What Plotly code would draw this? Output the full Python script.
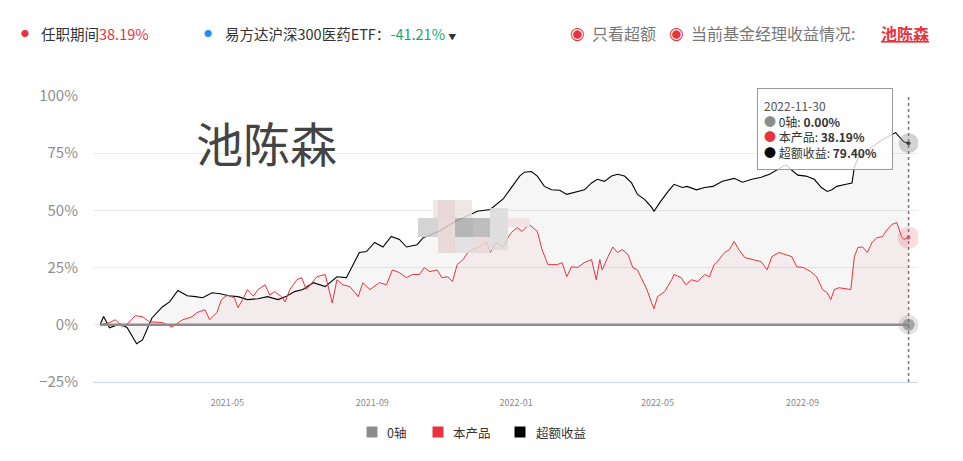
import plotly.graph_objects as go

# ---------------- data ----------------
manager_name = "池陈森"
tenure_return = 38.19
etf_name = "易方达沪深300医药ETF"
etf_return = -41.21
hover_date = "2022-11-30"

series_names = ["0轴", "本产品", "超额收益"]
series_colors = ["#8c8c8c", "#e8333f", "#000000"]

zero_dates = ["2021-01-13", "2022-11-30"]
zero_values = [0, 0]

excess_dates = ["2021-01-13","2021-01-16","2021-01-21","2021-01-30","2021-02-05","2021-02-13","2021-02-18","2021-02-26","2021-03-07","2021-03-13",
                "2021-03-20","2021-03-28","2021-04-04","2021-04-10","2021-04-18","2021-04-25","2021-05-02","2021-05-10","2021-05-18","2021-05-27",
                "2021-06-04","2021-06-13","2021-06-20","2021-06-27","2021-07-04","2021-07-13","2021-07-23","2021-08-02","2021-08-10","2021-08-15",
                "2021-08-21","2021-08-27","2021-09-03","2021-09-10","2021-09-17","2021-09-24","2021-09-30","2021-10-09","2021-10-14","2021-10-28",
                "2021-11-10","2021-11-29","2021-12-10","2021-12-21","2021-12-29","2022-01-04","2022-01-08","2022-01-14","2022-01-19","2022-01-25",
                "2022-01-31","2022-02-07","2022-02-13","2022-02-20","2022-02-28","2022-03-06","2022-03-11","2022-03-17","2022-03-23","2022-03-28",
                "2022-04-03","2022-04-09","2022-04-14","2022-04-20","2022-04-26","2022-04-28","2022-05-03","2022-05-10","2022-05-15","2022-05-22",
                "2022-05-26","2022-06-03","2022-06-10","2022-06-17","2022-06-25","2022-07-05","2022-07-12","2022-07-20","2022-07-28","2022-08-04",
                "2022-08-11","2022-08-18","2022-08-22","2022-08-28","2022-09-04","2022-09-11","2022-09-17","2022-09-22","2022-09-26","2022-09-30",
                "2022-10-08","2022-10-13","2022-10-15","2022-10-19","2022-10-28","2022-11-08","2022-11-19","2022-11-24","2022-11-26","2022-11-30"]
excess_values = [0, 3.6, -1.3, 0.4, -1.3, -8.3, -6.6, 3.0, 7.9, 10.0,
                 15.0, 12.7, 12.3, 11.8, 14.0, 13.6, 12.7, 12.3, 11.0, 11.4,
                 12.3, 11.0, 12.5, 14.5, 15.4, 18.4, 16.7, 21.0, 20.6, 25.4,
                 31.6, 32.0, 36.0, 34.0, 38.6, 37.3, 34.0, 35.0, 38.0, 41.0,
                 45.0, 49.6, 50.4, 55.0, 60.5, 65.0, 66.7, 67.0, 65.0, 60.5,
                 59.0, 58.8, 57.0, 58.0, 59.0, 62.0, 63.6, 62.7, 65.0, 65.8,
                 65.0, 62.0, 57.0, 54.8, 51.3, 49.6, 53.5, 58.3, 61.4, 60.0,
                 60.5, 59.0, 60.0, 60.5, 62.7, 64.0, 62.3, 63.6, 64.5, 65.8,
                 68.0, 70.0, 68.0, 65.4, 65.0, 63.6, 60.0, 58.3, 59.0, 60.5,
                 61.4, 62.0, 69.0, 73.7, 77.0, 81.0, 84.0, 81.0, 80.0, 79.40]

product_dates = ["2021-01-13","2021-01-21","2021-01-26","2021-02-01","2021-02-06","2021-02-12","2021-02-18","2021-02-24","2021-03-07","2021-03-11",
                 "2021-03-15","2021-03-24","2021-04-01","2021-04-05","2021-04-12","2021-04-16","2021-04-22","2021-04-26","2021-05-01","2021-05-07",
                 "2021-05-10","2021-05-14","2021-05-18","2021-05-23","2021-05-27","2021-06-02","2021-06-06","2021-06-10","2021-06-16","2021-06-19",
                 "2021-06-23","2021-06-29","2021-07-03","2021-07-07","2021-07-16","2021-07-23","2021-07-29","2021-08-02","2021-08-07","2021-08-13",
                 "2021-08-20","2021-08-24","2021-08-30","2021-09-07","2021-09-13","2021-09-18","2021-09-24","2021-09-30","2021-10-05","2021-10-11",
                 "2021-10-15","2021-10-20","2021-10-26","2021-10-30","2021-11-04","2021-11-08","2021-11-12","2021-11-17","2021-11-21","2021-11-25",
                 "2021-12-01","2021-12-07","2021-12-10","2021-12-15","2021-12-21","2021-12-25","2021-12-28","2022-01-02","2022-01-06","2022-01-12",
                 "2022-01-15","2022-01-19","2022-01-23","2022-01-28","2022-02-05","2022-02-09","2022-02-13","2022-02-17","2022-02-22","2022-02-28",
                 "2022-03-06","2022-03-10","2022-03-13","2022-03-15","2022-03-20","2022-03-24","2022-03-28","2022-04-01","2022-04-06","2022-04-10",
                 "2022-04-14","2022-04-18","2022-04-22","2022-04-26","2022-04-28","2022-05-01","2022-05-07","2022-05-13","2022-05-15","2022-05-21",
                 "2022-05-25","2022-05-30","2022-06-04","2022-06-10","2022-06-14","2022-06-18","2022-06-20","2022-06-27","2022-07-01","2022-07-05",
                 "2022-07-09","2022-07-14","2022-07-20","2022-07-28","2022-08-02","2022-08-06","2022-08-12","2022-08-18","2022-08-23","2022-08-27",
                 "2022-09-02","2022-09-08","2022-09-13","2022-09-18","2022-09-22","2022-09-25","2022-09-28","2022-10-02","2022-10-08","2022-10-12",
                 "2022-10-15","2022-10-18","2022-10-22","2022-10-26","2022-10-30","2022-11-03","2022-11-08","2022-11-12","2022-11-16","2022-11-20",
                 "2022-11-24","2022-11-26","2022-11-30"]
product_values = [0, 1.0, 2.2, -0.9, 0.8, 4.0, 3.5, 1.3, 1.0, 0.0,
                  -1.0, 2.2, 3.5, 5.3, 6.6, 2.2, 5.3, 11.0, 13.0, 11.8,
                  7.5, 11.0, 15.4, 12.5, 15.4, 17.5, 13.0, 14.5, 12.3, 10.0,
                  15.4, 19.7, 20.6, 15.4, 21.0, 22.0, 9.6, 19.7, 17.5, 16.7,
                  12.3, 18.4, 15.4, 18.4, 17.5, 24.0, 22.8, 20.6, 22.0, 22.0,
                  25.0, 23.2, 24.0, 20.6, 21.0, 18.9, 26.3, 28.5, 31.6, 32.9,
                  34.0, 36.4, 31.6, 36.0, 34.0, 38.0, 40.4, 42.5, 40.8, 43.9,
                  42.5, 40.8, 32.9, 26.3, 26.3, 27.2, 21.0, 25.4, 25.0, 27.2,
                  28.5, 19.7, 28.5, 24.0, 29.8, 34.0, 31.6, 32.9, 30.7, 25.0,
                  24.0, 19.7, 15.4, 9.6, 7.0, 12.3, 14.5, 19.7, 22.0, 20.6,
                  17.5, 19.7, 18.9, 22.0, 21.0, 26.3, 27.2, 31.6, 32.9, 36.4,
                  32.9, 29.4, 28.5, 27.6, 24.0, 29.8, 31.6, 30.7, 29.8, 25.4,
                  25.0, 23.2, 21.0, 15.4, 14.0, 11.0, 15.4, 16.2, 15.8, 15.4,
                  29.8, 33.8, 34.0, 31.6, 36.0, 38.0, 38.6, 41.7, 43.9, 44.7,
                  38.6, 37.3, 38.19]

tick_dates = ["2021-05-01", "2021-09-01", "2022-01-01", "2022-05-01", "2022-09-01"]
tick_labels = ["2021-05", "2021-09", "2022-01", "2022-05", "2022-09"]
y_ticks = [-25, 0, 25, 50, 75, 100]
y_tick_labels = ["\u221225%", "0%", "25%", "50%", "75%", "100%"]
x_range = ["2021-01-07", "2022-12-08"]

# ---------------- layout helpers (pixel -> paper) ----------------
W, H = 963, 461
ML, MR, MT, MB = 93, 45, 96, 79
PW, PH = W - ML - MR, H - MT - MB
def px(x):
    return (x - ML) / PW
def py(y):
    return (H - MB - y) / PH

CJK = "Noto Sans CJK SC, Noto Sans, sans-serif"

fig = go.Figure()

# area + lines
fig.add_trace(go.Scatter(x=excess_dates, y=excess_values, mode="lines", fill="tozeroy", name=series_names[2],
                         fillcolor="rgba(0,0,0,0.035)", line=dict(color=series_colors[2], width=1.1),
                         showlegend=False, hoverinfo="skip"))
fig.add_trace(go.Scatter(x=product_dates, y=product_values, mode="lines", fill="tozeroy", name=series_names[1],
                         fillcolor="rgba(225,40,55,0.05)", line=dict(color=series_colors[1], width=1),
                         showlegend=False, hoverinfo="skip"))
fig.add_trace(go.Scatter(x=zero_dates, y=zero_values, mode="lines", name=series_names[0],
                         line=dict(color=series_colors[0], width=2.5),
                         showlegend=False, hoverinfo="skip"))

# hover highlight markers at the last date
end_x = [hover_date] * 3
end_y = [zero_values[-1], product_values[-1], excess_values[-1]]
fig.add_trace(go.Scatter(x=end_x, y=end_y, mode="markers",
                         marker=dict(size=[20, 22, 20],
                                     color=["rgba(140,140,140,0.35)", "rgba(240,90,100,0.30)", "rgba(140,140,140,0.55)"],
                                     line=dict(width=0)),
                         showlegend=False, hoverinfo="skip"))
fig.add_trace(go.Scatter(x=end_x, y=end_y, mode="markers",
                         marker=dict(size=[12, 4, 4], color=["#8a8a8a", "#e8333f", "#111111"], line=dict(width=0)),
                         showlegend=False, hoverinfo="skip"))

# dotted crosshair
fig.add_shape(type="line", xref="x", yref="paper", x0=hover_date, x1=hover_date, y0=0, y1=1,
              line=dict(color="#777777", width=1.5, dash="dot"), layer="above")

# mosaic (blurred logo)
mosaic = [
    (433, 200, 472, 218, "rgba(236,226,226,0.85)"),
    (418, 218, 438, 237, "rgba(205,205,205,0.85)"),
    (438, 200, 455, 253, "rgba(230,212,212,0.85)"),
    (455, 218, 473, 237, "rgba(170,170,170,0.85)"),
    (473, 218, 490, 237, "rgba(180,180,180,0.85)"),
    (490, 208, 508, 250, "rgba(218,218,218,0.85)"),
    (508, 218, 530, 227, "rgba(240,224,224,0.85)"),
    (455, 237, 473, 253, "rgba(222,222,222,0.85)"),
    (473, 237, 490, 253, "rgba(232,216,216,0.85)"),
]
for x0, y0, x1, y1, c in mosaic:
    fig.add_shape(type="rect", xref="paper", yref="paper", x0=px(x0), x1=px(x1), y0=py(y1), y1=py(y0),
                  fillcolor=c, line=dict(width=0), layer="above")

ann = []
# watermark name
ann.append(dict(x=px(266), y=py(141), xref="paper", yref="paper", text=manager_name, showarrow=False,
                font=dict(family=CJK, size=47, color="#444444"), xanchor="center", yanchor="middle"))

# header
hy = py(33)
ann.append(dict(x=px(25), y=hy, xref="paper", yref="paper", text="●", showarrow=False,
                font=dict(size=8, color="#e8333f"), xanchor="center", yanchor="middle"))
ann.append(dict(x=px(39), y=hy, xref="paper", yref="paper",
                text=f"任职期间<span style='color:#e8333f'>{tenure_return:.2f}%</span>", showarrow=False,
                font=dict(family=CJK, size=14.5, color="#333333"), xanchor="left", yanchor="middle"))
ann.append(dict(x=px(208), y=hy, xref="paper", yref="paper", text="●", showarrow=False,
                font=dict(size=8, color="#1e8fff"), xanchor="center", yanchor="middle"))
ann.append(dict(x=px(223), y=hy, xref="paper", yref="paper",
                text=f"{etf_name}：<span style='color:#17a673'>{etf_return:.2f}%</span> <span style='font-size:8px'>▼</span>",
                showarrow=False, font=dict(family=CJK, size=14.5, color="#333333"), xanchor="left", yanchor="middle"))
ann.append(dict(x=px(577), y=hy, xref="paper", yref="paper", text="◉", showarrow=False,
                font=dict(family="DejaVu Sans", size=17, color="#e8333f"), xanchor="center", yanchor="middle"))
ann.append(dict(x=px(590), y=hy, xref="paper", yref="paper", text="只看超额", showarrow=False,
                font=dict(family=CJK, size=16, color="#777777"), xanchor="left", yanchor="middle"))
ann.append(dict(x=px(676), y=hy, xref="paper", yref="paper", text="◉", showarrow=False,
                font=dict(family="DejaVu Sans", size=17, color="#e8333f"), xanchor="center", yanchor="middle"))
ann.append(dict(x=px(689), y=hy, xref="paper", yref="paper", text="当前基金经理收益情况:", showarrow=False,
                font=dict(family=CJK, size=16, color="#777777"), xanchor="left", yanchor="middle"))
ann.append(dict(x=px(879), y=hy, xref="paper", yref="paper",
                text=f"<span style='text-decoration:underline'><b>{manager_name}</b></span>", showarrow=False,
                font=dict(family=CJK, size=16, color="#e8333f"), xanchor="left", yanchor="middle"))

# tooltip
tip = (f"<span style='color:#555555'>{hover_date}</span><br>"
       f"<span style='color:#8c8c8c'>●</span> {series_names[0]}: <b>{zero_values[-1]:.2f}%</b><br>"
       f"<span style='color:#e8333f'>●</span> {series_names[1]}: <b>{product_values[-1]:.2f}%</b><br>"
       f"<span style='color:#000000'>●</span> {series_names[2]}: <b>{excess_values[-1]:.2f}%</b>")
ann.append(dict(x=px(757), y=py(88), xref="paper", yref="paper", text=tip, showarrow=False, align="left",
                valign="middle", width=122, height=68,
                xanchor="left", yanchor="top", font=dict(family=CJK, size=12, color="#333333"),
                bgcolor="rgba(255,255,255,0.82)", bordercolor="#9a9a9a", borderwidth=1, borderpad=6))

# custom legend (squares + labels)
legend_sq_x = [372, 438, 520]
legend_txt_x = [385, 451, 534]
ly = 432
for name, color, sx, tx in zip(series_names, series_colors, legend_sq_x, legend_txt_x):
    fig.add_shape(type="rect", xref="paper", yref="paper", x0=px(sx - 5.5), x1=px(sx + 5.5),
                  y0=py(ly + 5.5), y1=py(ly - 5.5), fillcolor=color, line=dict(width=0))
    ann.append(dict(x=px(tx), y=py(ly), xref="paper", yref="paper", text=name, showarrow=False,
                    font=dict(family=CJK, size=12.5, color="#333333"), xanchor="left", yanchor="middle"))

fig.update_layout(
    width=W, height=H,
    margin=dict(l=ML, r=MR, t=MT, b=MB),
    paper_bgcolor="white", plot_bgcolor="white",
    font=dict(family=CJK),
    annotations=ann,
    showlegend=False,
    xaxis=dict(type="date", range=x_range, tickvals=tick_dates, ticktext=tick_labels,
               tickfont=dict(size=9, color="#8a8a8a"), showgrid=False, zeroline=False,
               showline=True, linecolor="#ccd6eb", linewidth=1, ticks="", ticklabelstandoff=12),
    yaxis=dict(range=[-25, 100], tickvals=y_ticks, ticktext=y_tick_labels, showgrid=True, gridcolor="#ebebeb",
               zeroline=False, tickfont=dict(size=15, color="#8f8f8f"), ticklabelstandoff=14),
    hovermode=False,
)

fig.write_html("out.html", config={"displayModeBar": False},
               post_script="document.body.style.margin='0';document.body.style.overflow='hidden';")
